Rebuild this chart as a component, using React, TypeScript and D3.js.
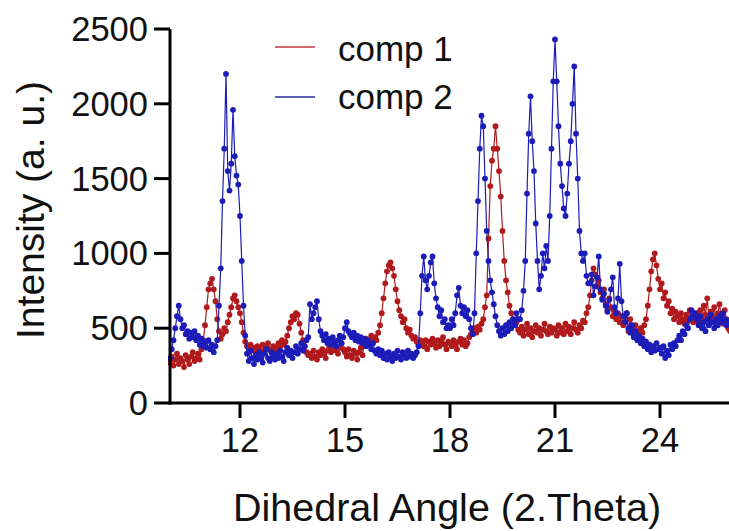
import React from "react";
import * as d3 from "d3";

// XRD scan: sampling grid (degrees 2θ)
const angleStart = 10;
const angleStep = 0.05;

// comp 1 intensities (a.u.), from 10.00° in 0.05° steps
const comp1: number[] = [
  // 10.00 - 10.95
  270, 310, 250, 290, 330, 260, 300, 280, 240, 320, 290, 260, 310, 340, 280, 300, 330, 290, 360, 420,
  // 11.00 - 11.95
  520, 640, 760, 800, 830, 760, 680, 560, 480, 430, 460, 500, 480, 540, 590, 640, 700, 720, 680, 640,
  // 12.00 - 12.95
  600, 540, 470, 410, 380, 360, 390, 350, 370, 340, 380, 360, 330, 390, 350, 370, 400, 360, 340, 380,
  // 13.00 - 13.95
  370, 350, 400, 380, 420, 390, 410, 450, 500, 540, 580, 560, 600, 590, 530, 470, 420, 380, 340, 320,
  // 14.00 - 14.95
  330, 300, 350, 310, 290, 340, 320, 360, 330, 300, 350, 380, 340, 360, 390, 350, 330, 370, 400, 360,
  // 15.00 - 15.95
  340, 310, 360, 320, 300, 350, 330, 290, 340, 370, 320, 400, 430, 390, 420, 450, 410, 440, 420, 470,
  // 16.00 - 16.95
  520, 600, 700, 800, 880, 920, 940, 900, 850, 760, 680, 620, 580, 540, 560, 500, 470, 490, 450, 430,
  // 17.00 - 17.95
  440, 410, 390, 420, 400, 380, 420, 360, 410, 390, 430, 400, 370, 420, 380, 410, 440, 390, 360, 410,
  // 18.00 - 18.95
  400, 380, 420, 390, 360, 410, 430, 390, 420, 380, 400, 440, 460, 480, 500, 470, 510, 490, 530, 560,
  // 19.00 - 19.95
  640, 720, 1100, 1450, 1620, 1700, 1850, 1700, 1550, 1380, 1150, 950, 820, 740, 650, 600, 560, 520, 540, 490,
  // 20.00 - 20.95
  470, 510, 450, 490, 530, 460, 500, 440, 480, 520, 470, 500, 450, 490, 530, 480, 460, 510, 470, 500,
  // 21.00 - 21.95
  490, 450, 520, 470, 500, 460, 530, 480, 510, 460, 500, 540, 490, 470, 520, 500, 550, 540, 600, 640,
  // 22.00 - 22.95
  720, 820, 900, 860, 780, 820, 740, 700, 760, 660, 620, 700, 640, 580, 620, 560, 600, 540, 580, 520,
  // 23.00 - 23.95
  540, 600, 480, 560, 500, 460, 520, 480, 440, 500, 470, 520, 560, 650, 760, 880, 960, 1000, 920, 830,
  // 24.00 - 24.95
  760, 800, 700, 740, 650, 680, 600, 630, 560, 610, 580, 540, 600, 560, 530, 590, 550, 620, 570, 540,
  // 25.00 - 25.95
  580, 600, 540, 620, 560, 650, 590, 700, 560, 610, 580, 640, 550, 600, 660, 570, 530, 620, 560, 500,
  // 26.00
  480,
];

// comp 2 intensities (a.u.), same grid
const comp2: number[] = [
  // 10.00 - 10.95
  300, 360, 420, 500, 580, 650, 560, 500, 520, 460, 480, 430, 470, 440, 480, 420, 450, 390, 430, 380,
  // 11.00 - 11.95
  410, 370, 420, 360, 390, 340, 380, 420, 650, 900, 1350, 1700, 2200, 1550, 1420, 1600, 1960, 1650, 1520, 1460,
  // 12.00 - 12.95
  1250, 950, 650, 450, 330, 280, 350, 300, 260, 320, 290, 340, 300, 270, 330, 360, 300, 280, 340, 310,
  // 13.00 - 13.95
  290, 330, 300, 350, 310, 280, 340, 370, 320, 350, 300, 340, 380, 330, 360, 400, 350, 380, 420, 440,
  // 14.00 - 14.95
  660, 560, 600, 640, 680, 560, 480, 450, 420, 460, 400, 430, 390, 440, 410, 380, 420, 450, 400, 440,
  // 15.00 - 15.95
  500, 540, 480, 460, 440, 470, 420, 450, 410, 440, 400, 430, 380, 420, 390, 360, 400, 350, 330, 360,
  // 16.00 - 16.95
  320, 350, 300, 330, 290, 340, 310, 280, 330, 300, 350, 310, 290, 340, 320, 300, 350, 310, 330, 300,
  // 17.00 - 17.95
  320, 340, 380, 600, 850, 980, 820, 760, 850, 940, 980, 800, 700, 640, 580, 620, 540, 560, 500, 520,
  // 18.00 - 18.95
  500, 560, 520, 600, 720, 770, 650, 600, 640, 580, 620, 560, 500, 460, 600, 1000, 1350, 1700, 1920, 1850,
  // 19.00 - 19.95
  1500, 1150, 950, 820, 740, 660, 580, 520, 480, 450, 500, 460, 520, 480, 540, 500, 560, 520, 600, 560,
  // 20.00 - 20.95
  560, 620, 750, 950, 1400, 1800, 2050, 1750, 1550, 1200, 950, 760, 850, 1000, 900, 1050, 950, 1250, 1700, 2150,
  // 21.00 - 21.95
  2430, 2150, 1850, 1600, 1450, 1300, 1250, 1400, 1600, 1750, 2000, 2250, 1800, 1500, 1150, 1000, 950, 1000, 850, 800,
  // 22.00 - 22.95
  800, 860, 720, 780, 840, 980, 760, 690, 730, 650, 610, 690, 760, 840, 640, 600, 700, 930, 680, 580,
  // 23.00 - 23.95
  540, 600, 500, 470, 520, 440, 480, 420, 450, 400, 430, 380, 410, 360, 390, 340, 380, 350, 400, 360,
  // 24.00 - 24.95
  370, 330, 380, 300, 350, 320, 390, 360, 400, 380, 420, 450, 420, 480, 460, 520, 500, 560, 620, 580,
  // 25.00 - 25.95
  600, 560, 520, 580, 500, 540, 480, 560, 520, 590, 540, 500, 560, 520, 580, 540, 600, 560, 520, 550,
  // 26.00
  540,
];

const seriesNames = ["comp 1", "comp 2"];
const xTicks = [12, 15, 18, 21, 24];
const yTicks = [0, 500, 1000, 1500, 2000, 2500];

const W = 729;
const H = 531;
const FONT = "'Liberation Sans', Arial, Helvetica, sans-serif";

export default function App() {
  const x = d3.scaleLinear().domain([10, 26]).range([170, 730]);
  const y = d3.scaleLinear().domain([0, 2500]).range([403, 29]);

  const toPts = (arr: number[]) =>
    arr.map((v, i) => [angleStart + i * angleStep, v] as [number, number]);

  const series = [
    { name: seriesNames[0], pts: toPts(comp1), color: "#b01a1c", legend: "#c8393a" },
    { name: seriesNames[1], pts: toPts(comp2), color: "#1c1cb8", legend: "#2a2a9a" },
  ];

  const line = d3
    .line<[number, number]>()
    .x((d) => x(d[0]))
    .y((d) => y(d[1]));

  return (
    <svg
      width={W}
      height={H}
      style={{ position: "absolute", left: 0, top: 0, background: "#fff" }}
      fontFamily={FONT}
    >
      <defs>
        <clipPath id="plotClip">
          <rect x={168} y={0} width={W - 168} height={404} />
        </clipPath>
      </defs>

      <g clipPath="url(#plotClip)">
        {series.map((s) => (
          <g key={s.name}>
            <path d={line(s.pts) || ""} fill="none" stroke={s.color} strokeWidth={1.2} />
            {s.pts.map((p, i) => (
              <circle key={i} cx={x(p[0])} cy={y(p[1])} r={2.9} fill={s.color} />
            ))}
          </g>
        ))}
      </g>

      {/* Y axis */}
      <line x1={x(10)} x2={x(10)} y1={y(2500)} y2={y(0) + 1.5} stroke="#000" strokeWidth={3} />
      {yTicks.map((t) => (
        <g key={t}>
          <line x1={x(10) - 16} x2={x(10)} y1={y(t)} y2={y(t)} stroke="#000" strokeWidth={3} />
          <text x={148} y={y(t) + 12} fontSize={34.5} textAnchor="end" fill="#111">
            {t}
          </text>
        </g>
      ))}

      {/* X axis */}
      <line x1={x(10) - 1.5} x2={W} y1={y(0)} y2={y(0)} stroke="#000" strokeWidth={3} />
      {xTicks.map((t) => (
        <g key={t}>
          <line x1={x(t)} x2={x(t)} y1={y(0)} y2={y(0) + 15} stroke="#000" strokeWidth={3} />
          <text x={x(t)} y={452} fontSize={34.5} textAnchor="middle" fill="#111">
            {t}
          </text>
        </g>
      ))}

      {/* Axis titles */}
      <text x={447} y={521} fontSize={39.5} textAnchor="middle" fill="#111">
        Dihedral Angle (2.Theta)
      </text>
      <text
        transform={`translate(44, 210) rotate(-90)`}
        fontSize={39}
        textAnchor="middle"
        fill="#111"
      >
        Intensity (a. u.)
      </text>

      {/* Legend */}
      {series.map((s, i) => (
        <g key={s.name}>
          <line
            x1={275}
            x2={315}
            y1={47 + i * 50}
            y2={47 + i * 50}
            stroke={s.legend}
            strokeWidth={1.5}
          />
          <text x={338} y={61 + i * 48} fontSize={35} fill="#111">
            {s.name}
          </text>
        </g>
      ))}
    </svg>
  );
}
